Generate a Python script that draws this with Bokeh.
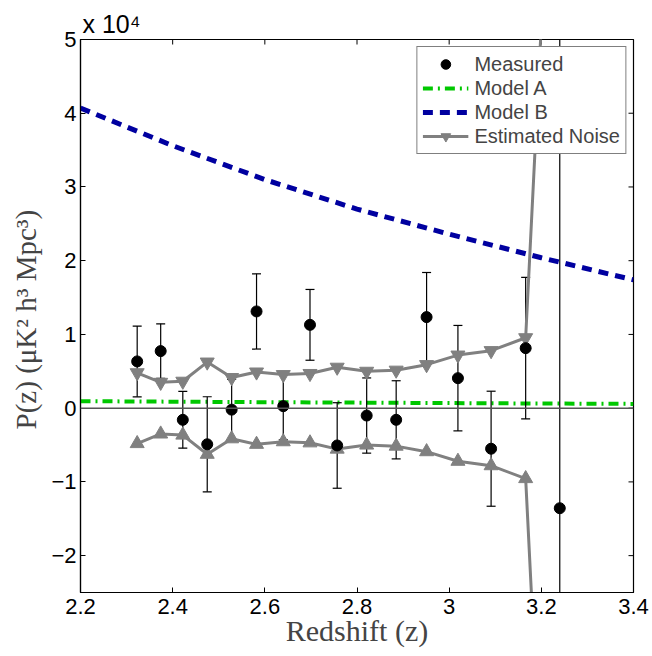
import math
from bokeh.plotting import figure
from bokeh.models import (Range1d, FixedTicker, Span, Legend,
                          LegendItem, Title, ColumnDataSource)
from bokeh.embed import file_html
from bokeh.resources import INLINE

# ---------------- data ----------------
z = [2.323, 2.374, 2.422, 2.475, 2.528, 2.582, 2.640, 2.698,
     2.757, 2.821, 2.885, 2.951, 3.019, 3.091, 3.166, 3.240]
measured = [6340, 7740, -1580, -4900, -200, 13120, 270, 11300,
            -5060, -1000, -1580, 12350, 4070, -5500, 8140, -13570]
errors = [4800, 3700, 3850, 6450, 4100, 5100, 4550, 4800,
          5800, 5100, 5300, 6050, 7150, 7800, 9600, 102000]
noise = [4800, 3500, 3650, 6250, 4150, 4900, 4550, 4700,
         5550, 5000, 5150, 5900, 7200, 7800, 9550, 102000]

model_z = [2.2, 2.4, 2.6, 2.8, 3.0, 3.2, 3.4]
model_a = [950, 880, 810, 750, 690, 630, 580]
model_b = [40700, 35600, 31000, 27000, 23600, 20400, 17400]

x_min, x_max = 2.2, 3.4
y_min, y_max = -25000, 50000
x_ticks = [2.2, 2.4, 2.6, 2.8, 3.0, 3.2, 3.4]
x_tick_labels = ["2.2", "2.4", "2.6", "2.8", "3", "3.2", "3.4"]
y_ticks = [-20000, -10000, 0, 10000, 20000, 30000, 40000, 50000]
y_tick_labels = ["\u22122", "\u22121", "0", "1", "2", "3", "4", "5"]
scale_text = "x 10\u2074"

# ---------------- figure ----------------
p = figure(width=652, height=656,
           x_range=Range1d(x_min, x_max), y_range=Range1d(y_min, y_max),
           output_backend="svg", toolbar_location=None,
           min_border_left=80, min_border_right=19,
           min_border_top=39, min_border_bottom=64)
p.grid.visible = False
p.outline_line_color = "black"
p.outline_line_width = 1.2
p.background_fill_color = "white"
p.border_fill_color = "white"

TICK_FONT = "Liberation Sans"
LABEL_FONT = "Liberation Serif"


def style_axis(ax, ticks, labels):
    ax.ticker = FixedTicker(ticks=ticks)
    ax.major_label_overrides = {t: l for t, l in zip(ticks, labels)}
    ax.major_tick_in = 5
    ax.major_tick_out = 0
    ax.minor_tick_in = 0
    ax.minor_tick_out = 0
    ax.axis_line_color = "black"
    ax.axis_line_width = 1.2
    ax.major_tick_line_color = "black"
    ax.major_tick_line_width = 1
    ax.major_label_text_font = TICK_FONT
    ax.major_label_text_color = "black"
    ax.major_label_text_font_size = "22px"


xb = p.xaxis[0]
yl = p.yaxis[0]
style_axis(xb, x_ticks, x_tick_labels)
style_axis(yl, y_ticks, y_tick_labels)
xb.major_label_standoff = 6
yl.major_label_standoff = 4

xb.axis_label = "Redshift (z)"
xb.axis_label_text_font = LABEL_FONT
xb.axis_label_text_font_size = "30px"
xb.axis_label_text_font_style = "normal"
xb.axis_label_standoff = -3

yl.axis_label = "P(z)  (\u03bcK\u00b2 h\u00b3 Mpc\u00b3)"
yl.axis_label_text_font = LABEL_FONT
yl.axis_label_text_font_size = "29px"
yl.axis_label_text_font_style = "normal"
yl.axis_label_standoff = 6

# scale factor shown above the frame, at its left
p.add_layout(Title(text=scale_text, align="left", offset=2, standoff=3,
                   text_font=TICK_FONT, text_font_size="25px",
                   text_font_style="normal", text_color="black"), "above")

# inner tick marks on the top and right edges (half of each dash is
# clipped away by the frame, leaving an inward tick)
p.scatter(x_ticks, [y_max] * len(x_ticks), marker="dash", size=10,
          angle=math.pi / 2, line_color="black", line_width=1)
p.scatter([x_max] * len(y_ticks), y_ticks, marker="dash", size=10,
          line_color="black", line_width=1)

# zero line
p.add_layout(Span(location=0, dimension="width", line_color="#555555",
                  line_width=1.5))

# ---------------- glyphs ----------------
ms = ColumnDataSource(dict(
    z=z, p=measured,
    lo=[m - e for m, e in zip(measured, errors)],
    hi=[m + e for m, e in zip(measured, errors)],
    up=noise, dn=[-n for n in noise]))
mods = ColumnDataSource(dict(z=model_z, a=model_a, b=model_b))

r_a = p.line("z", "a", source=mods, line_color="#00c800", line_width=4,
             line_dash="10 5 2 5")
r_b = p.line("z", "b", source=mods, line_color="#0000a0", line_width=5,
             line_dash="10 7")

p.segment(x0="z", y0="lo", x1="z", y1="hi", source=ms,
          line_color="black", line_width=1.2)
p.scatter("z", "lo", source=ms, marker="dash", size=9,
          line_color="black", line_width=1.2)
p.scatter("z", "hi", source=ms, marker="dash", size=9,
          line_color="black", line_width=1.2)

NC = "#808080"
r_nl = p.line("z", "up", source=ms, line_color=NC, line_width=3)
r_nm = p.scatter("z", "up", source=ms, marker="inverted_triangle", size=14,
                 fill_color=NC, line_color=NC)
p.line("z", "dn", source=ms, line_color=NC, line_width=3)
p.scatter("z", "dn", source=ms, marker="triangle", size=14,
          fill_color=NC, line_color=NC)

r_m = p.scatter("z", "p", source=ms, marker="circle", size=11,
                fill_color="black", line_color="black")

legend = Legend(items=[
    LegendItem(label="Measured", renderers=[r_m]),
    LegendItem(label="Model A", renderers=[r_a]),
    LegendItem(label="Model B", renderers=[r_b]),
    LegendItem(label="Estimated Noise", renderers=[r_nl, r_nm]),
], location="top_right", margin=7, padding=5, spacing=0,
    glyph_width=46, glyph_height=24, label_height=24, label_standoff=6,
    label_text_font=TICK_FONT, label_text_font_size="20px",
    border_line_color="black", border_line_width=1.2,
    background_fill_color="white", background_fill_alpha=1.0)
p.add_layout(legend)

open("out.html", "w").write(file_html(p, INLINE))
